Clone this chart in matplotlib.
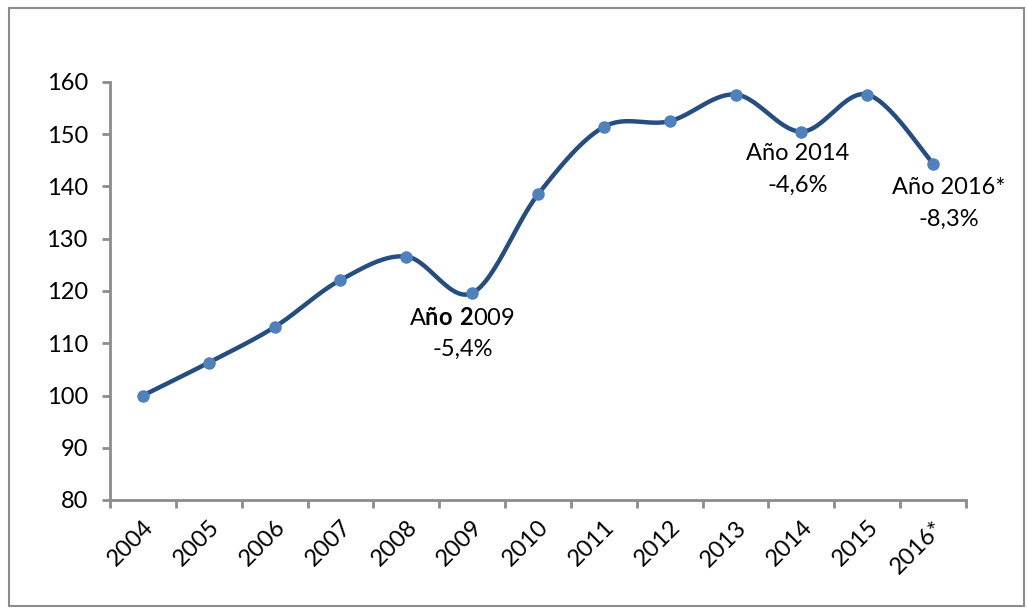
import numpy as np
import matplotlib.pyplot as plt
from matplotlib.patches import Rectangle

years = ["2004", "2005", "2006", "2007", "2008", "2009", "2010",
         "2011", "2012", "2013", "2014", "2015", "2016*"]
index = [100.0, 106.3, 113.1, 122.1, 126.6, 119.6, 138.5,
         151.4, 152.5, 157.6, 150.5, 157.6, 144.4]


def smooth(xs, ys, n=30):
    # bezier smoothing like spreadsheet "smoothed line"
    xs = np.asarray(xs, float)
    ys = np.asarray(ys, float)
    px = np.concatenate([[xs[0]], xs, [xs[-1]]])
    py = np.concatenate([[ys[0]], ys, [ys[-1]]])
    ox, oy = [], []
    t = np.linspace(0, 1, n)
    for i in range(1, len(px) - 2):
        p0 = np.array([px[i], py[i]])
        p3 = np.array([px[i + 1], py[i + 1]])
        p1 = p0 + (np.array([px[i + 1], py[i + 1]]) - np.array([px[i - 1], py[i - 1]])) / 6
        p2 = p3 - (np.array([px[i + 2], py[i + 2]]) - np.array([px[i], py[i]])) / 6
        b = ((1 - t) ** 3)[:, None] * p0 + (3 * (1 - t) ** 2 * t)[:, None] * p1 \
            + (3 * (1 - t) * t ** 2)[:, None] * p2 + (t ** 3)[:, None] * p3
        ox.extend(b[:, 0])
        oy.extend(b[:, 1])
    return ox, oy


plt.rcParams['font.family'] = ['Lato', 'DejaVu Sans']
plt.rcParams['mathtext.fontset'] = 'custom'
plt.rcParams['mathtext.rm'] = 'Lato'
plt.rcParams['mathtext.bf'] = 'Lato:bold'
fs = 17

fig = plt.figure(figsize=(10.27, 6.08), dpi=100)
ax = fig.add_axes([110 / 1027, 108 / 608, 856 / 1027, 418 / 608])

fig.patches.append(Rectangle((9 / 1027, 2 / 608), 1015 / 1027, 598 / 608,
                             transform=fig.transFigure, fill=False,
                             edgecolor='#8c8c8c', linewidth=1.5))

x = np.arange(len(years)) + 0.5
sx, sy = smooth(x, index)
ax.plot(sx, sy, color='#264d80', linewidth=3.2, solid_capstyle='round', zorder=2)
ax.plot(x, index, 'o', color='#4f81bd', markersize=8, zorder=3)

ax.set_xlim(0, len(years))
ax.set_ylim(80, 160)
ax.set_yticks(range(80, 161, 10))
ax.set_xticks(np.arange(len(years) + 1))
ax.set_xticklabels([])
ax.set_xticks(x, minor=True)
ax.set_xticklabels(years, minor=True, rotation=45, ha='right',
                   rotation_mode='anchor', fontsize=fs)
ax.tick_params(axis='x', which='minor', length=0, pad=12)
ax.tick_params(axis='x', which='major', length=6, width=2, color='#8c8c8c')
ax.tick_params(axis='y', length=6, width=2, color='#8c8c8c', labelsize=fs, pad=10)

for side in ['top', 'right']:
    ax.spines[side].set_visible(False)
for side in ['left', 'bottom']:
    ax.spines[side].set_color('#8c8c8c')
    ax.spines[side].set_linewidth(2)

# 2009 label, "ño 2" is bold in the original
ax.text(5.35, 114.8, r"$\mathrm{A}\mathbf{ño\ 2}\mathrm{009}$", fontsize=fs,
        ha='center', va='center')
ax.text(5.35, 108.9, "-5,4%", fontsize=fs, ha='center', va='center')

ax.text(10.45, 146.3, "Año 2014", fontsize=fs, ha='center', va='center')
ax.text(10.45, 140.3, "-4,6%", fontsize=fs, ha='center', va='center')
ax.text(12.74, 139.8, "Año 2016*", fontsize=fs, ha='center', va='center')
ax.text(12.74, 133.8, "-8,3%", fontsize=fs, ha='center', va='center')

fig.savefig("out.png", dpi=100)
